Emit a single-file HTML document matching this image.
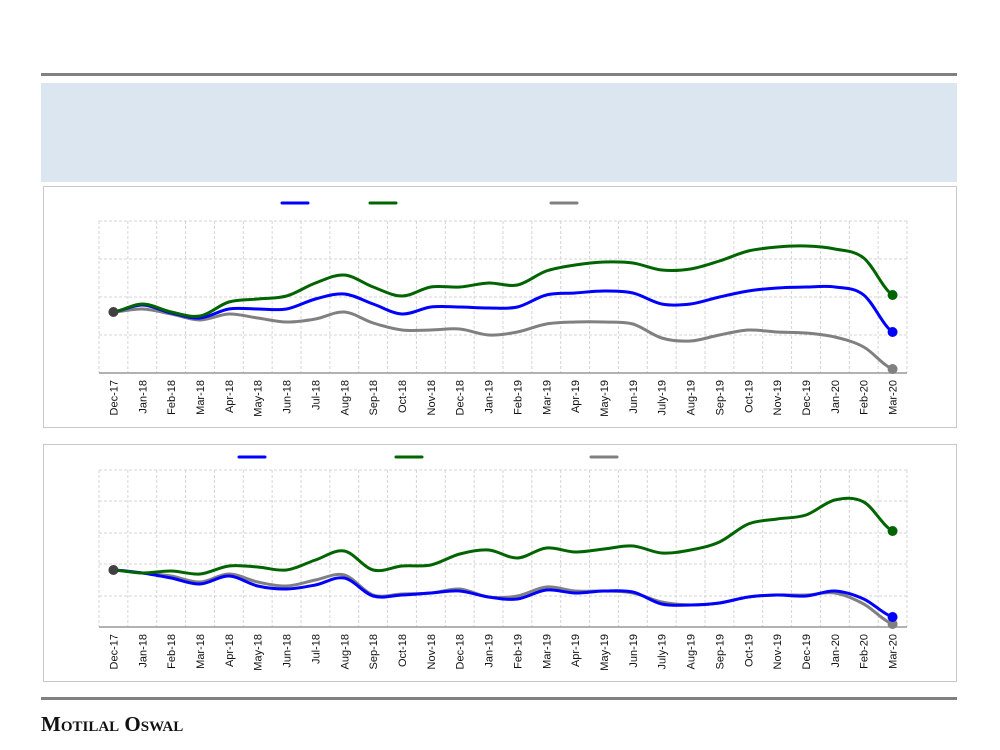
<!DOCTYPE html><html><head><style>body{margin:0;background:#fff}svg{display:block}</style></head><body>
<svg id="s" width="1000" height="750" xmlns="http://www.w3.org/2000/svg" font-family="Liberation Sans, sans-serif">
<rect x="41" y="73" width="916" height="3" fill="#808080"/>
<rect x="41" y="83" width="916" height="99" fill="#dce6f1"/>
<rect x="43.5" y="186.5" width="913" height="241" fill="#fff" stroke="#c8c8c8"/>
<rect x="43.5" y="444.5" width="913" height="237" fill="#fff" stroke="#c8c8c8"/>
<rect x="41" y="697" width="916" height="3" fill="#808080"/>
<text x="41" y="731" font-family="Liberation Serif, serif" font-size="21" font-weight="bold" style="font-variant:small-caps" fill="#111">Motilal Oswal</text>
<g id="g"></g>
</svg>
<script>
const months=["Dec-17","Jan-18","Feb-18","Mar-18","Apr-18","May-18","Jun-18","Jul-18","Aug-18","Sep-18","Oct-18","Nov-18","Dec-18","Jan-19","Feb-19","Mar-19","Apr-19","May-19","Jun-19","July-19","Aug-19","Sep-19","Oct-19","Nov-19","Dec-19","Jan-20","Feb-20","Mar-20"];
const g=document.getElementById('g');let h='';
const x0=99,x1=907,w=(x1-x0)/28;
function cx(i){return x0+w*(i+0.5)}
function path(ys){let p=`M${cx(0)},${ys[0]}`;for(let i=0;i<ys.length-1;i++){const a=ys[Math.max(0,i-1)],b=ys[i],c=ys[i+1],d=ys[Math.min(ys.length-1,i+2)];const xa=cx(i),xb=cx(i+1);p+=` C${xa+w/3},${b+(c-a)/6} ${xb-w/3},${c-(d-b)/6} ${xb},${c}`;}return p}
function chart(top,hs,lbly,leg,series){
 for(const y of hs)h+=`<line x1="${x0}" x2="${x1}" y1="${y}" y2="${y}" stroke="#d4d4d4" stroke-dasharray="3,2"/>`;
 const bot=hs[hs.length-1];
 for(let i=0;i<=28;i++)h+=`<line x1="${x0+w*i}" x2="${x0+w*i}" y1="${hs[0]}" y2="${bot}" stroke="#d4d4d4" stroke-dasharray="3,2"/>`;
 h+=`<line x1="${x0}" x2="${x1}" y1="${bot}" y2="${bot}" stroke="#999" stroke-width="1.5"/>`;
 months.forEach((m,i)=>h+=`<text transform="translate(${cx(i)+4},${lbly}) rotate(-90)" text-anchor="end" font-size="11" fill="#111">${m}</text>`);
 const cols=["#0000ff","#006400","#808080"];
 leg.forEach((lx,k)=>h+=`<line x1="${lx}" x2="${lx+26}" y1="${top}" y2="${top}" stroke="${cols[k]}" stroke-width="3" stroke-linecap="round"/>`);
 [2,0,1].forEach(k=>{const ys=series[k];h+=`<path d="${path(ys)}" fill="none" stroke="${cols[k]}" stroke-width="3"/>`;h+=`<circle cx="${cx(27)}" cy="${ys[27]}" r="5" fill="${cols[k]}"/>`;});
 h+=`<circle cx="${cx(0)}" cy="${series[0][0]}" r="5" fill="#404040"/>`;
}
chart(203,[221,259,297,335,373],380,[282,370,551],[
[312,305,313,318,309,309,309,299,294,304,314,307,307,308,307,295,293,291,293,304,304,297,291,288,287,287,295,332],
[312,304,312,316,302,299,296,283,275,287,296,287,287,283,285,271,265,262,263,270,269,261,251,247,246,249,258,295],
[312,309,314,320,314,318,322,319,312,323,330,330,329,335,332,324,322,322,324,338,341,335,330,332,333,337,347,369]]);
chart(457,[470,501,533,564,596,627],634,[239,396,591],[
[570,573,578,584,576,586,589,585,578,596,595,593,591,597,599,590,593,591,592,604,605,603,597,595,596,591,599,617],
[570,573,571,574,566,567,570,560,551,570,566,565,554,550,558,548,552,549,546,553,550,542,524,519,515,500,502,531],
[570,573,576,582,574,582,586,580,575,595,594,593,589,597,596,587,591,591,593,602,605,603,597,595,595,593,604,624]]);
g.innerHTML=h;
</script></body></html>
